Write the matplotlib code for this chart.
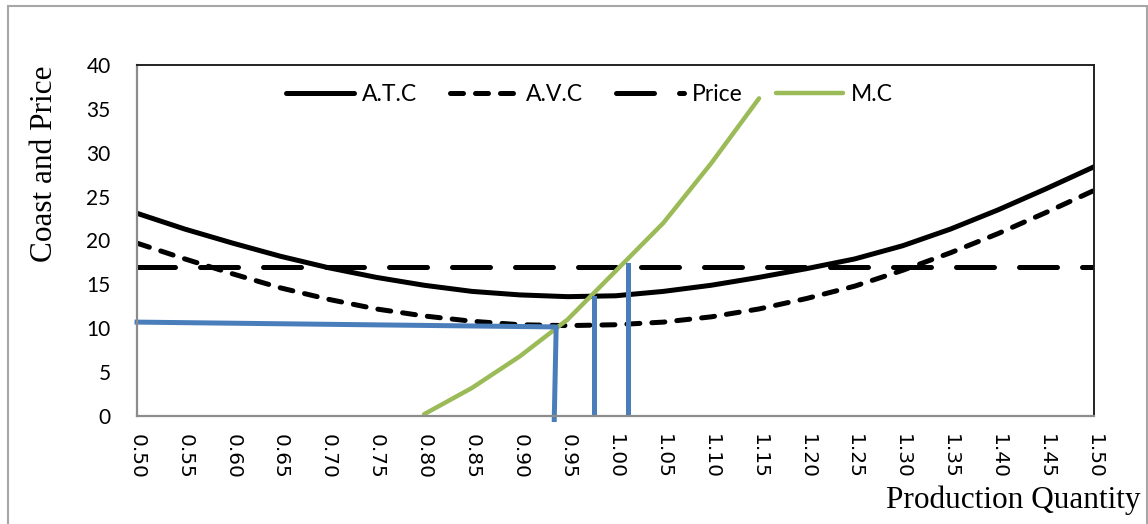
import matplotlib.pyplot as plt
from matplotlib.patches import Rectangle

quantity = [0.50, 0.55, 0.60, 0.65, 0.70, 0.75, 0.80, 0.85, 0.90, 0.95, 1.00,
            1.05, 1.10, 1.15, 1.20, 1.25, 1.30, 1.35, 1.40, 1.45, 1.50]
atc = [23.1, 21.3, 19.7, 18.2, 16.9, 15.8, 14.9, 14.2, 13.8, 13.6, 13.7,
       14.2, 14.9, 15.8, 16.8, 17.9, 19.4, 21.3, 23.5, 25.9, 28.4]
avc = [19.7, 17.9, 16.2, 14.6, 13.3, 12.2, 11.4, 10.8, 10.4, 10.3, 10.4,
       10.7, 11.3, 12.2, 13.4, 14.8, 16.6, 18.6, 20.8, 23.2, 25.7]
price = [17.0] * len(quantity)

mc_quantity = [0.80, 0.85, 0.90, 0.95, 1.00, 1.05, 1.10, 1.15]
mc = [0.2, 3.2, 6.8, 11.0, 16.5, 22.0, 28.8, 36.2]

# guide lines: shutdown point and the two output levels
shut_x = [0.50, 0.938, 0.936]
shut_y = [10.7, 10.15, -0.4]
q_atc_min = 0.978
atc_min = 13.5
q_profit = 1.013
price_level = 17.2

tick_labels = ["%.2f" % q for q in quantity]

fig = plt.figure(figsize=(11.48, 5.24), dpi=100)
ax = fig.add_axes([137 / 1148, 1 - 416 / 524, (1094 - 137) / 1148, (416 - 65) / 524])

lw = 3.6
ax.plot(quantity, atc, color="black", lw=lw, solid_capstyle="round", label="A.T.C")
ax.plot(quantity, avc, color="black", lw=lw, dashes=(2.6, 2.4),
        dash_capstyle="round", label="A.V.C")
ax.plot(quantity, price, color="black", lw=lw, dashes=(7.6, 5.0),
        dash_capstyle="round", label="Price")
ax.plot(mc_quantity, mc, color="#9BBB59", lw=3.2, solid_capstyle="round", label="M.C")

blue = "#4A7EBB"
ax.plot(shut_x, shut_y, color=blue, lw=3.6, clip_on=False)
ax.plot([q_atc_min, q_atc_min], [atc_min, 0], color=blue, lw=3.6)
ax.plot([q_profit, q_profit], [price_level, 0], color=blue, lw=3.6)

ax.set_xlim(0.50, 1.50)
ax.set_ylim(0, 40)
ax.set_xticks(quantity)
ax.set_xticklabels(tick_labels, rotation=270, family="DejaVu Sans", fontsize=14.5)
ax.set_yticks(range(0, 41, 5))
ax.set_yticklabels([str(v) for v in range(0, 41, 5)], family="Lato", fontsize=15)
ax.tick_params(axis="both", length=0)
ax.tick_params(axis="y", pad=19)
ax.tick_params(axis="x", pad=13)

for side in ["top", "right"]:
    ax.spines[side].set_color("#222222")
    ax.spines[side].set_linewidth(1.4)
for side in ["left", "bottom"]:
    ax.spines[side].set_color("#8C8C8C")
    ax.spines[side].set_linewidth(1.6)

ax.legend(loc="upper center", bbox_to_anchor=(0.473, 1.005), ncol=4, frameon=False,
          prop={"family": "Lato", "size": 16.5}, handlelength=2.95,
          handletextpad=0.35, columnspacing=1.45)

fig.text(45 / 1148, 1 - 164 / 524, "Coast and Price", rotation=90, ha="center",
         va="center", family="Liberation Serif", fontsize=22.5)
fig.text(1140 / 1148, 1 - 508 / 524, "Production Quantity", ha="right",
         va="baseline", family="Liberation Serif", fontsize=22.5)

fig.patches.append(Rectangle((8 / 1148, -0.05), (1147 - 8) / 1148, 1 - 6 / 524 + 0.05,
                             transform=fig.transFigure, fill=False,
                             edgecolor="#A6A6A6", lw=1.5))

fig.savefig("out.png", dpi=100)
